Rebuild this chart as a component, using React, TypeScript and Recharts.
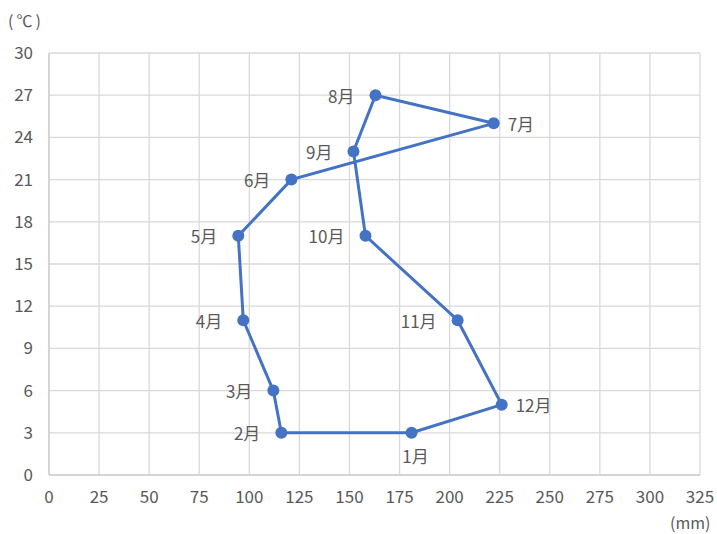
import { ScatterChart, Scatter, XAxis, YAxis, CartesianGrid } from 'recharts';

const months = ['1月', '2月', '3月', '4月', '5月', '6月', '7月', '8月', '9月', '10月', '11月', '12月'];
const rainfall = [181, 116, 112, 97, 94.5, 121, 222, 163, 152, 158, 204, 226];
const temperature = [3, 3, 6, 11, 17, 21, 25, 27, 23, 17, 11, 5];
const xTicks = [0, 25, 50, 75, 100, 125, 150, 175, 200, 225, 250, 275, 300, 325];
const yTicks = [0, 3, 6, 9, 12, 15, 18, 21, 24, 27, 30];

// where each month's label sits relative to its dot
const labelSide: { [m: string]: 'left' | 'right' | 'below' } = {
  '1月': 'below',
  '7月': 'right',
  '12月': 'right',
};

const FONT = '"Noto Sans CJK JP", "Noto Sans", sans-serif';
const TEXT = '#595959';
const BLUE = '#4472C4';

const points = months.map((m, i) => ({ month: m, rain: rainfall[i], temp: temperature[i] }));
// close the loop back to January
const loop = [...points, points[0]];

function MonthDot(props: any) {
  const { cx, cy, payload } = props;
  const side = labelSide[payload.month] || 'left';
  let tx = cx - 21;
  let ty = cy;
  let anchor = 'end';
  if (side === 'right') {
    tx = cx + 14;
    anchor = 'start';
  } else if (side === 'below') {
    tx = cx + 4;
    ty = cy + 23;
    anchor = 'middle';
  }
  return (
    <g>
      <circle cx={cx} cy={cy} r={6} fill={BLUE} />
      <text
        x={tx}
        y={ty}
        textAnchor={anchor}
        dominantBaseline="central"
        fill={TEXT}
        fontSize={17}
        fontFamily={FONT}
      >
        {payload.month}
      </text>
    </g>
  );
}

export default function App() {
  const tickStyle = { fill: TEXT, fontSize: 17, fontFamily: FONT };
  const unitStyle = {
    position: 'absolute' as const,
    fontSize: 16,
    lineHeight: '20px',
    fontFamily: FONT,
    color: TEXT,
    whiteSpace: 'nowrap' as const,
  };
  return (
    <div style={{ position: 'absolute', left: 0, top: 0, width: 717, height: 534, background: '#fff' }}>
      <div style={{ ...unitStyle, left: 8, top: 10, letterSpacing: 3 }}>(℃)</div>
      <div style={{ ...unitStyle, left: 670, top: 512 }}>(mm)</div>
      <ScatterChart width={717} height={534} margin={{ top: 53, right: 17, bottom: 29, left: 9 }}>
        <CartesianGrid stroke="#d9d9d9" strokeWidth={1.3} />
        <XAxis
          type="number"
          dataKey="rain"
          domain={[0, 325]}
          ticks={xTicks}
          height={30}
          tickLine={false}
          tickSize={0}
          tickMargin={16}
          axisLine={{ stroke: '#cfcfcf', strokeWidth: 1.5 }}
          tick={tickStyle}
          interval={0}
        />
        <YAxis
          type="number"
          dataKey="temp"
          domain={[0, 30]}
          ticks={yTicks}
          width={40}
          tickLine={false}
          tickSize={0}
          tickMargin={16}
          axisLine={{ stroke: '#cfcfcf', strokeWidth: 1.5 }}
          tick={tickStyle}
          interval={0}
        />
        <Scatter
          data={loop}
          line={{ stroke: BLUE, strokeWidth: 3 }}
          shape={() => <g />}
          isAnimationActive={false}
        />
        <Scatter data={points} shape={MonthDot} isAnimationActive={false} />
      </ScatterChart>
    </div>
  );
}
